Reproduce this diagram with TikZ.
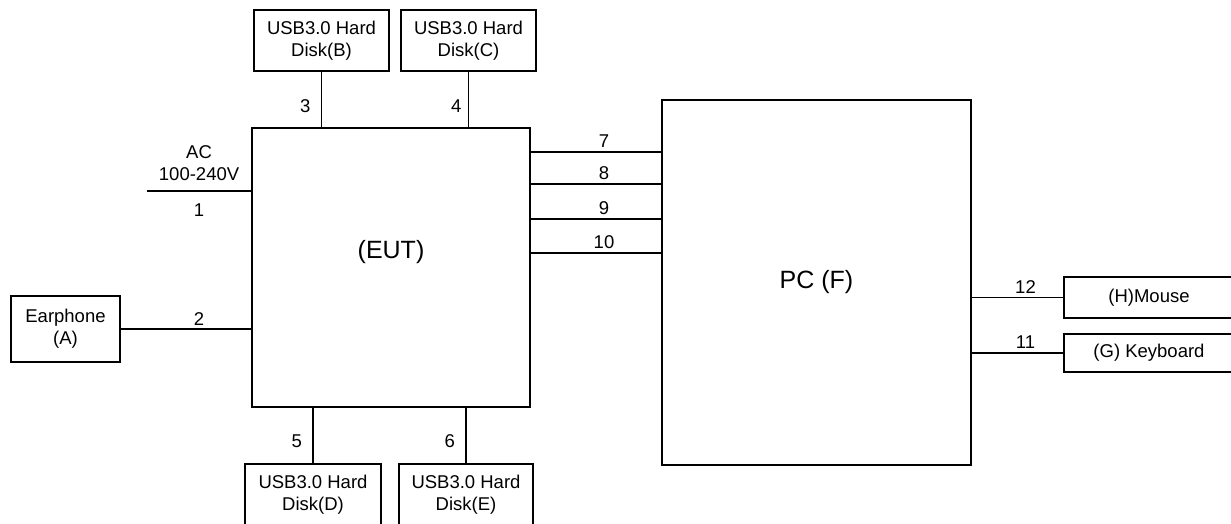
\documentclass[tikz,border=0pt]{standalone}
\usepackage{fontspec}
\setmainfont{Liberation Sans}
\usepackage{tikz}

\begin{document}
\begin{tikzpicture}[x=1pt, y=-1pt, line width=1.7pt,
  every node/.style={font=\fontsize{18.5}{22}\selectfont},
  box/.style={draw, align=center, inner sep=0pt},
  big/.style={font=\fontsize{25}{30}\selectfont}]
  \useasboundingbox (0,0) rectangle (1231,524);
  \clip (0,0) rectangle (1231,524);

  \node[box, minimum width=278, minimum height=279] (EUT) at (391,267.5) {};
  \node[big] (eutlbl) at (391,252) {(EUT)};
  \node[box, big, minimum width=309, minimum height=365] (PC) at (816.5,282.5) {PC (F)};

  \node[box, minimum width=109, minimum height=66] (A) at (65.5,329) {Earphone\\(A)};
  \node[box, minimum width=135, minimum height=61] (B) at (321.5,40.5) {USB3.0 Hard\\Disk(B)};
  \node[box, minimum width=135, minimum height=61] (C) at (468.5,40.5) {USB3.0 Hard\\Disk(C)};
  \node[box, minimum width=136, minimum height=61] (D) at (313,494.5) {USB3.0 Hard\\Disk(D)};
  \node[box, minimum width=134, minimum height=61] (E) at (466,494.5) {USB3.0 Hard\\Disk(E)};
  \node[box, minimum width=170, minimum height=41] (H) at (1149,297.5) {(H)Mouse};
  \node[box, minimum width=170, minimum height=38] (G) at (1149,353) {(G) Keyboard};

  \coordinate (ac) at (147,191);

  \draw (ac) -- node[above, align=center, yshift=6pt] {AC\\100-240V} node[below, yshift=-9pt] {1} (ac -| EUT.west);
  \draw (A.east) -- node[above, pos=0.6, yshift=-1pt] {2} (A.east -| EUT.west);
  \draw (B.south) -- node[left, pos=0.62, xshift=-7pt] {3} (B.south |- EUT.north);
  \draw (C.south) -- node[left, pos=0.62, xshift=-3pt] {4} (C.south |- EUT.north);
  \draw (D.north |- EUT.south) -- node[left, pos=0.6, xshift=-7pt] {5} (D.north);
  \draw (E.north |- EUT.south) -- node[left, pos=0.6, xshift=-7pt] {6} (E.north);

  \draw (EUT.east |- 0,152) -- node[above, xshift=8pt] {7} (PC.west |- 0,152);
  \draw (EUT.east |- 0,184) -- node[above, xshift=8pt] {8} (PC.west |- 0,184);
  \draw (EUT.east |- 0,219) -- node[above, xshift=8pt] {9} (PC.west |- 0,219);
  \draw (EUT.east |- 0,253) -- node[above, xshift=8pt] {10} (PC.west |- 0,253);

  \draw (H.west -| PC.east) -- node[above, xshift=8pt] {12} (H.west);
  \draw (G.west -| PC.east) -- node[above, xshift=8pt] {11} (G.west);
\end{tikzpicture}
\end{document}
